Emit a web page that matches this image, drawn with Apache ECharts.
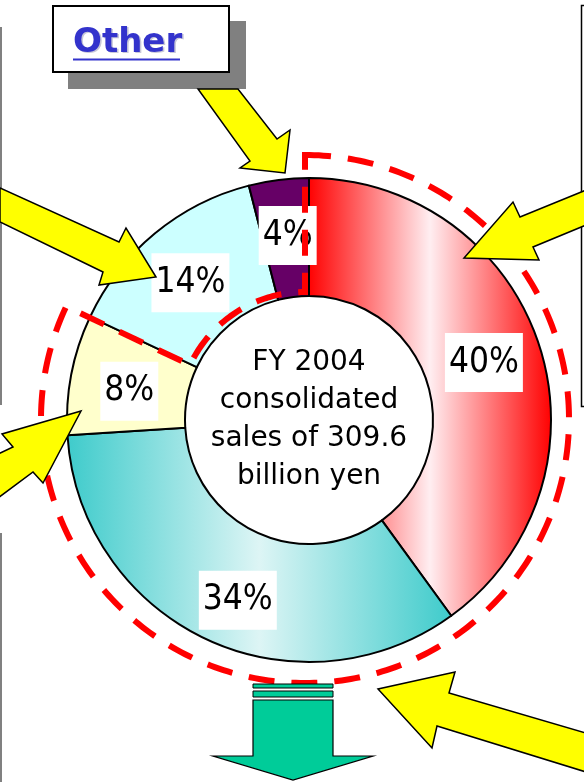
<!DOCTYPE html>
<html>
<head>
<meta charset="utf-8">
<script src="https://cdn.jsdelivr.net/npm/echarts@6/dist/echarts.min.js"></script>
<style>
html,body{margin:0;padding:0;background:#fff;}
#chart{width:584px;height:782px;}
</style>
</head>
<body>
<div id="chart"></div>
<script>
// ---- data ----
const sliceNames = ['Segment 1', 'Segment 2', 'Segment 3', 'Segment 4', 'Other'];
const shareValues = [40, 34, 8, 14, 4];
const outlinedShare = [82, 18]; // share enclosed by the red dashed outline, and the rest
const centerLines = ['FY 2004', 'consolidated', 'sales of 309.6', 'billion yen'];
const boxTitle = 'Other';

// ---- styling ----
const CX = 309, CY = 420;
const grad = (edge, mid) => new echarts.graphic.LinearGradient(0, 0, 1, 0, [
  {offset: 0, color: edge}, {offset: 0.5, color: mid}, {offset: 1, color: edge}
]);
const sliceColors = [
  grad('#FF0000', '#FFEEF1'),
  grad('#3ECBCB', '#DDF5F5'),
  '#FFFFCC',
  '#CCFFFF',
  '#660066'
];
const labelOffsets = [[-2, 0], [8, 12], [3, 6], [0, 6], [2, 0]];
const labelFont = '"Liberation Sans Narrow", "DejaVu Sans Condensed", "Liberation Sans", sans-serif';

// dashed outline geometry (annotation), angle derived from outlinedShare
const OX = 305, OY = 419, OR = 264, Or = 127;
function outlinePoints() {
  const total = outlinedShare.reduce((a, b) => a + b, 0);
  const endDeg = 360 * outlinedShare[0] / total;
  const pts = [];
  const pt = (deg, r) => {
    const a = deg * Math.PI / 180;
    return [OX + r * Math.sin(a), OY - r * Math.cos(a)];
  };
  for (let d = 0; d <= endDeg; d += 1) pts.push(pt(d, OR));
  pts.push(pt(endDeg, OR));
  for (let d = endDeg; d <= 360; d += 1) pts.push(pt(d, Or));
  pts.push(pt(360, Or));
  return pts;
}

const chart = echarts.init(document.getElementById('chart'), null, {renderer: 'canvas'});

const yellow = {fill: '#FFFF00', stroke: '#000', lineWidth: 1.5, lineJoin: 'miter'};
function poly(points) {
  return {type: 'polygon', z: 20, silent: true, shape: {points: points}, style: Object.assign({}, yellow)};
}

const option = {
  backgroundColor: '#fff',
  animation: false,
  series: [
    {
      type: 'pie',
      z: 2,
      center: [CX, CY],
      radius: [124, 242],
      startAngle: 90,
      clockwise: true,
      avoidLabelOverlap: false,
      silent: true,
      itemStyle: {borderColor: '#000', borderWidth: 2},
      label: {
        show: true,
        position: 'inside',
        formatter: '{c}%',
        color: '#000',
        fontSize: 35,
        fontFamily: labelFont,
        backgroundColor: '#fff',
        padding: [12, 4, 9, 4],
        lineHeight: 38
      },
      labelLine: {show: false},
      data: shareValues.map((v, i) => ({
        name: sliceNames[i],
        value: v,
        itemStyle: {color: sliceColors[i]},
        label: {offset: labelOffsets[i]}
      }))
    }
  ],
  graphic: [
    // left edge gray lines
    {type: 'line', z: 1, silent: true, shape: {x1: 1, y1: 27, x2: 1, y2: 405}, style: {stroke: '#808080', lineWidth: 2}},
    {type: 'line', z: 1, silent: true, shape: {x1: 1, y1: 533, x2: 1, y2: 782}, style: {stroke: '#808080', lineWidth: 2}},
    // right partial box
    {type: 'rect', z: 1, silent: true, shape: {x: 581.5, y: 5.5, width: 40, height: 401}, style: {fill: '#fff', stroke: '#000', lineWidth: 1.5}},
    // red dashed outline
    {type: 'polygon', z: 10, silent: true, shape: {points: outlinePoints()}, style: {fill: null, stroke: '#FF0000', lineWidth: 6, lineDash: [26, 17], lineJoin: 'miter'}},
    // "Other" box with L-shaped shadow
    {type: 'polygon', z: 20, silent: true, shape: {points: [[229, 21], [246, 21], [246, 89], [68, 89], [68, 72], [229, 72]]}, style: {fill: '#808080'}},
    {type: 'rect', z: 21, silent: true, shape: {x: 53, y: 6, width: 176, height: 66}, style: {fill: '#fff', stroke: '#000', lineWidth: 2}},
    {type: 'text', z: 22, silent: true, x: 74.5, y: 44.5, style: {text: boxTitle, fill: '#C8C8D8', font: 'bold 34px "DejaVu Sans", Verdana, sans-serif', verticalAlign: 'middle'}},
    {type: 'text', z: 23, silent: true, x: 73, y: 43, style: {text: boxTitle, fill: '#3333CC', font: 'bold 34px "DejaVu Sans", Verdana, sans-serif', verticalAlign: 'middle'}},
    {type: 'line', z: 23, silent: true, shape: {x1: 73, y1: 59.5, x2: 180, y2: 59.5}, style: {stroke: '#3333CC', lineWidth: 2}},
    // yellow arrows
    poly([[198, 89], [238, 89], [277, 139], [290, 130], [285, 173], [240, 168], [250, 161]]),
    poly([[0, 188], [119, 242], [126, 228], [156, 277], [99, 285], [103, 272], [0, 222]]),
    poly([[586, 190], [520, 217], [513, 202], [464, 258], [539, 260], [533, 247], [586, 225]]),
    poly([[-2, 454], [13, 447], [2, 434], [81, 411], [43, 483], [33, 472], [-2, 498]]),
    poly([[586, 733], [449, 693], [455, 672], [378, 689], [432, 748], [437, 726], [586, 772]]),
    // green down arrow
    {type: 'rect', z: 20, silent: true, shape: {x: 253, y: 684, width: 80, height: 4}, style: {fill: '#00CC99', stroke: '#000', lineWidth: 1}},
    {type: 'rect', z: 20, silent: true, shape: {x: 253, y: 691, width: 80, height: 6}, style: {fill: '#00CC99', stroke: '#000', lineWidth: 1}},
    {type: 'polygon', z: 20, silent: true, shape: {points: [[253, 700], [333, 700], [333, 756], [373, 756], [293, 780], [213, 756], [253, 756]]}, style: {fill: '#00CC99', stroke: '#000', lineWidth: 1.2}},
    // center text
    {type: 'text', z: 15, silent: true, x: CX, y: CY, style: {
      text: centerLines.join('\n'),
      fill: '#000',
      font: '28px "DejaVu Sans", Verdana, sans-serif',
      lineHeight: 38,
      align: 'center',
      verticalAlign: 'middle'
    }}
  ]
};
chart.setOption(option);
</script>
</body>
</html>
